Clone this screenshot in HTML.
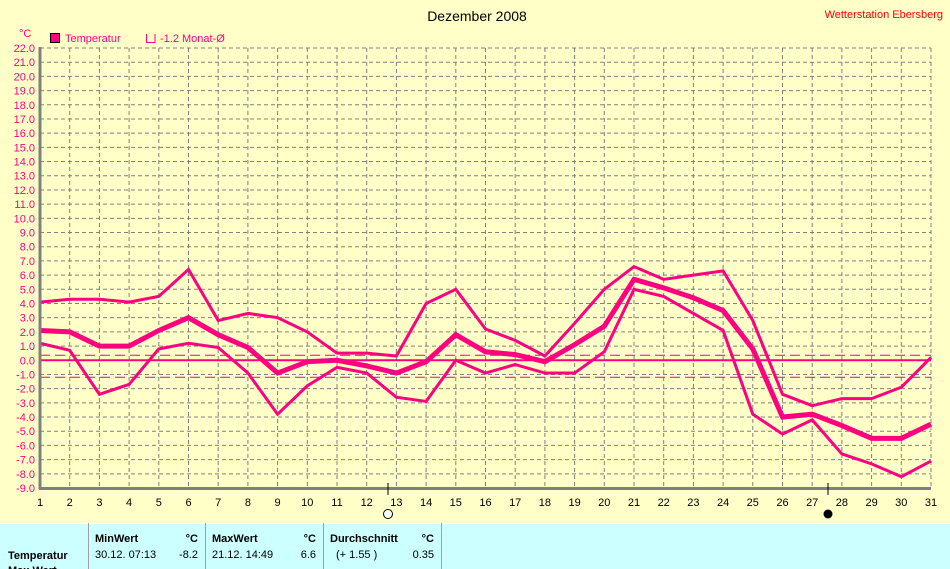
<!DOCTYPE html>
<html><head><meta charset="utf-8"><style>
body{margin:0;background:#ffffc8;width:950px;height:569px;overflow:hidden;font-family:"Liberation Sans",sans-serif}
svg{position:absolute;left:0;top:0}
</style></head><body>
<svg width="950" height="569" xmlns="http://www.w3.org/2000/svg" font-family="Liberation Sans, sans-serif">
<rect width="950" height="569" fill="#ffffc8"/>
<text x="477" y="21" font-size="14" text-anchor="middle" fill="#000">Dezember 2008</text>
<text x="943" y="18" font-size="11" text-anchor="end" fill="#ff0000">Wetterstation Ebersberg</text>
<text x="19" y="37" font-size="11" fill="#ff0080">°C</text>
<rect x="50.5" y="33.5" width="9" height="9" fill="#ff0080" stroke="#000"/>
<text x="65" y="42" font-size="11" fill="#ff0080">Temperatur</text>
<path d="M146.5 34v8.5h8.5v-8.5" fill="none" stroke="#ff0080"/>
<text x="160" y="42" font-size="11" fill="#ff0080">-1.2 Monat-Ø</text>
<g id="grid" stroke="#808080" stroke-dasharray="4,3" stroke-width="1"></g>
<g id="ylab" font-size="11" fill="#ff0080" text-anchor="end"></g>
<g id="xlab" font-size="11" fill="#000" text-anchor="middle"></g>
<line x1="40" y1="355.3" x2="931" y2="355.3" stroke="#ff0080" stroke-dasharray="10,5"/>
<line x1="40" y1="377.3" x2="931" y2="377.3" stroke="#ff0080" stroke-dasharray="10,5"/>
<line x1="40" y1="360.3" x2="931" y2="360.3" stroke="#ff0080" stroke-width="2"/>
<polyline id="pmax" fill="none" stroke="#ff0080" stroke-width="3"/>
<polyline id="pmin" fill="none" stroke="#ff0080" stroke-width="3"/>
<polyline id="pmean" fill="none" stroke="#ff0080" stroke-width="5"/>
<line x1="40" y1="47" x2="40" y2="489" stroke="#808080" stroke-width="3"/>
<line x1="39" y1="488.5" x2="931" y2="488.5" stroke="#808080" stroke-width="3"/>
<line x1="388" y1="483" x2="388" y2="495" stroke="#000"/>
<circle cx="388" cy="514" r="4.5" fill="#fff" stroke="#000"/>
<line x1="828" y1="483" x2="828" y2="495" stroke="#000"/>
<circle cx="828" cy="514" r="4.5" fill="#000"/>
<rect x="0" y="523" width="950" height="46" fill="#ccffff"/>
<line x1="0" y1="523.5" x2="950" y2="523.5" stroke="#fff"/>
<g stroke="#a0a0a0"><line x1="88.5" y1="523" x2="88.5" y2="569"/><line x1="205.5" y1="523" x2="205.5" y2="569"/><line x1="323.5" y1="523" x2="323.5" y2="569"/><line x1="441.5" y1="523" x2="441.5" y2="569"/></g>
<g font-size="11" fill="#000">
<text x="95" y="542" font-weight="bold">MinWert</text><text x="198" y="542" font-weight="bold" text-anchor="end">°C</text>
<text x="212" y="542" font-weight="bold">MaxWert</text><text x="316" y="542" font-weight="bold" text-anchor="end">°C</text>
<text x="330" y="542" font-weight="bold">Durchschnitt</text><text x="434" y="542" font-weight="bold" text-anchor="end">°C</text>
<text x="8" y="559" font-weight="bold">Temperatur</text>
<text x="95" y="558">30.12.  07:13</text><text x="198" y="558" text-anchor="end">-8.2</text>
<text x="212" y="558">21.12.  14:49</text><text x="316" y="558" text-anchor="end">6.6</text>
<text x="336" y="558">(+ 1.55 )</text><text x="434" y="558" text-anchor="end">0.35</text>
<text x="8" y="574" font-weight="bold">Max Wert</text>
</g>
</svg>
<script>
const ns="http://www.w3.org/2000/svg";
const Y=v=>48+(22-v)*14.194, X=d=>40+(d-1)*29.7;
const g=document.getElementById('grid'),yl=document.getElementById('ylab'),xl=document.getElementById('xlab');
for(let v=-9;v<=22;v++){const y=Y(v);
 if(v>-9){const l=document.createElementNS(ns,'line');l.setAttribute('x1',40);l.setAttribute('x2',931);l.setAttribute('y1',y);l.setAttribute('y2',y);g.appendChild(l);}
 const t=document.createElementNS(ns,'text');t.setAttribute('x',35);t.setAttribute('y',y+4);t.textContent=v.toFixed(1);yl.appendChild(t);}
for(let d=1;d<=31;d++){const x=X(d);
 if(d>1){const l=document.createElementNS(ns,'line');l.setAttribute('x1',x);l.setAttribute('x2',x);l.setAttribute('y1',48);l.setAttribute('y2',488);g.appendChild(l);}
 const t=document.createElementNS(ns,'text');t.setAttribute('x',x);t.setAttribute('y',506);t.textContent=d;xl.appendChild(t);}
const mx=[4.1,4.3,4.3,4.1,4.5,6.4,2.8,3.3,3.0,2.0,0.5,0.5,0.3,4.0,5.0,2.2,1.4,0.3,2.6,5.0,6.6,5.7,6.0,6.3,2.8,-2.4,-3.2,-2.7,-2.7,-1.9,0.2];
const mn=[1.2,0.7,-2.4,-1.7,0.8,1.2,0.9,-0.9,-3.8,-1.8,-0.5,-0.9,-2.6,-2.9,0.0,-0.9,-0.3,-0.9,-0.9,0.6,5.0,4.5,3.3,2.1,-3.8,-5.2,-4.2,-6.6,-7.3,-8.2,-7.1];
const me=[2.1,2.0,1.0,1.0,2.1,3.0,1.8,0.9,-0.9,-0.1,0.0,-0.4,-0.9,-0.1,1.8,0.6,0.4,-0.1,1.1,2.4,5.7,5.1,4.4,3.5,0.8,-4.0,-3.8,-4.6,-5.5,-5.5,-4.5];
const pts=a=>a.map((v,i)=>X(i+1)+','+Y(v)).join(' ');
document.getElementById('pmax').setAttribute('points',pts(mx));
document.getElementById('pmin').setAttribute('points',pts(mn));
document.getElementById('pmean').setAttribute('points',pts(me));
</script>
</body></html>
